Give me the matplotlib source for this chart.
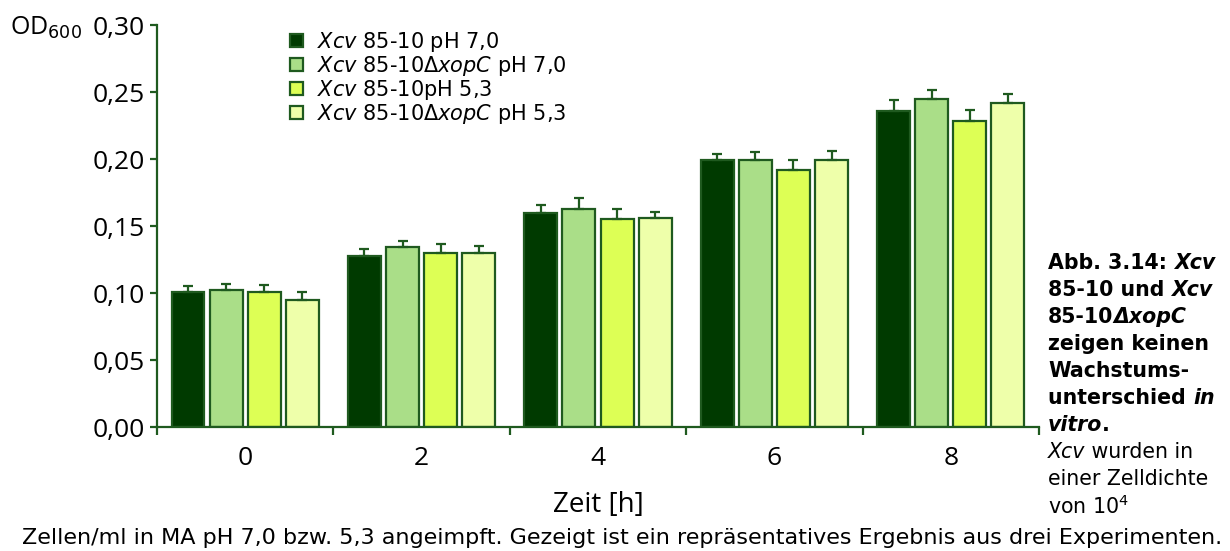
import numpy as np
import matplotlib.pyplot as plt
from matplotlib.patches import Patch

plt.rcParams['font.family'] = ['Open Sans', 'DejaVu Sans']
plt.rcParams['mathtext.fontset'] = 'custom'
plt.rcParams['mathtext.rm'] = 'DejaVu Sans'
plt.rcParams['mathtext.it'] = 'DejaVu Sans:italic'

hours  = ['0', '2', '4', '6', '8']
labels = [r'$\mathit{Xcv}$ 85-10 pH 7,0',
          r'$\mathit{Xcv}$ 85-10$\mathit{ΔxopC}$ pH 7,0',
          r'$\mathit{Xcv}$ 85-10pH 5,3',
          r'$\mathit{Xcv}$ 85-10$\mathit{ΔxopC}$ pH 5,3']
od = [
    [0.101, 0.128, 0.160, 0.199, 0.236],   # wt pH 7,0
    [0.102, 0.134, 0.163, 0.199, 0.245],   # xopC pH 7,0
    [0.101, 0.130, 0.155, 0.192, 0.228],   # wt pH 5,3
    [0.095, 0.130, 0.156, 0.199, 0.242],   # xopC pH 5,3
]
sd = [
    [0.0045, 0.0052, 0.0060, 0.0050, 0.0082],
    [0.0050, 0.0050, 0.0079, 0.0065, 0.0062],
    [0.0050, 0.0064, 0.0075, 0.0075, 0.0087],
    [0.0055, 0.0050, 0.0047, 0.0067, 0.0067],
]
colors = ['#003a00', '#aade88', '#ddff55', '#eeffaa']
EDGE   = '#1f5a1f'

fig = plt.figure(figsize=(12.3, 5.51), dpi=100)
ax  = fig.add_axes([0.1276, 0.225, 0.7171, 0.7296])

x     = np.arange(len(hours))
pitch = 0.216
width = 0.187
for i in range(4):
    pos = x + (i - 1.5) * pitch
    ax.bar(pos, od[i], width, color=colors[i], edgecolor=EDGE, linewidth=1.6, zorder=2)
    ax.errorbar(pos, od[i], yerr=[np.zeros(len(hours)), sd[i]], fmt='none',
                ecolor=EDGE, elinewidth=1.6, capsize=3.6, capthick=1.6, zorder=3)

ax.set_xlim(-0.5, 4.5)
ax.set_ylim(0, 0.30)
ax.set_yticks(np.arange(0, 0.31, 0.05))
ax.set_yticklabels([f'{v:.2f}'.replace('.', ',') for v in np.arange(0, 0.31, 0.05)])
ax.set_xticks(np.arange(-0.5, 4.6, 1))
ax.set_xticklabels([])
ax.set_xticks(x, minor=True)
ax.set_xticklabels(hours, minor=True)
ax.tick_params(axis='x', which='major', length=6, width=1.6, color=EDGE, direction='out')
ax.tick_params(axis='x', which='minor', length=0, labelsize=19, pad=14)
ax.tick_params(axis='y', length=5, width=1.6, color=EDGE, labelsize=19, pad=3.5)
for s in ['top', 'right']:
    ax.spines[s].set_visible(False)
for s in ['left', 'bottom']:
    ax.spines[s].set_color(EDGE)
    ax.spines[s].set_linewidth(1.6)

fig.text(10 / 1230, 1 - 28 / 551, r'OD$_{600}$', fontsize=18, va='center', ha='left')
fig.text(598 / 1230, 1 - 505 / 551, 'Zeit [h]', fontsize=20, va='center', ha='center')

handles = [Patch(facecolor=c, edgecolor=EDGE, linewidth=1.6) for c in colors]
fig.legend(handles, labels, loc='upper left', bbox_to_anchor=(290 / 1230, 1 - 30 / 551),
           frameon=False, prop={'family': 'DejaVu Sans', 'size': 15},
           handlelength=0.6, handleheight=0.6,
           handletextpad=0.7, labelspacing=0.0, borderaxespad=0, borderpad=0)

# caption beside and below the chart, built from styled runs
renderer = fig.canvas.get_renderer()


def put_runs(x0, y0, parts, size, family='DejaVu Sans'):
    xp = x0
    for txt, style, weight in parts:
        t = fig.text(xp / 1230, 1 - y0 / 551, txt, fontsize=size, family=family,
                     style=style, weight=weight, va='center', ha='left')
        xp += t.get_window_extent(renderer).width


B, I = 'bold', 'italic'
cap_lines = [
    [('Abb. 3.14: ', 'normal', B), ('Xcv', I, B)],
    [('85-10 und ', 'normal', B), ('Xcv', I, B)],
    [('85-10', 'normal', B), ('ΔxopC', I, B)],
    [('zeigen keinen', 'normal', B)],
    [('Wachstums-', 'normal', B)],
    [('unterschied ', 'normal', B), ('in', I, B)],
    [('vitro', I, B), ('.', 'normal', B)],
    [('Xcv', I, 'normal'), (' wurden in', 'normal', 'normal')],
    [('einer Zelldichte', 'normal', 'normal')],
    [('von 10$^4$', 'normal', 'normal')],
]
for k, parts in enumerate(cap_lines):
    put_runs(1048, 263 + k * 27.0, parts, 14.8)

put_runs(22, 538, [('Zellen/ml in MA pH 7,0 bzw. 5,3 angeimpft. Gezeigt ist ein '
                    'repräsentatives Ergebnis aus drei Experimenten.', 'normal', 'normal')], 16)

fig.savefig('out.png', dpi=100)
